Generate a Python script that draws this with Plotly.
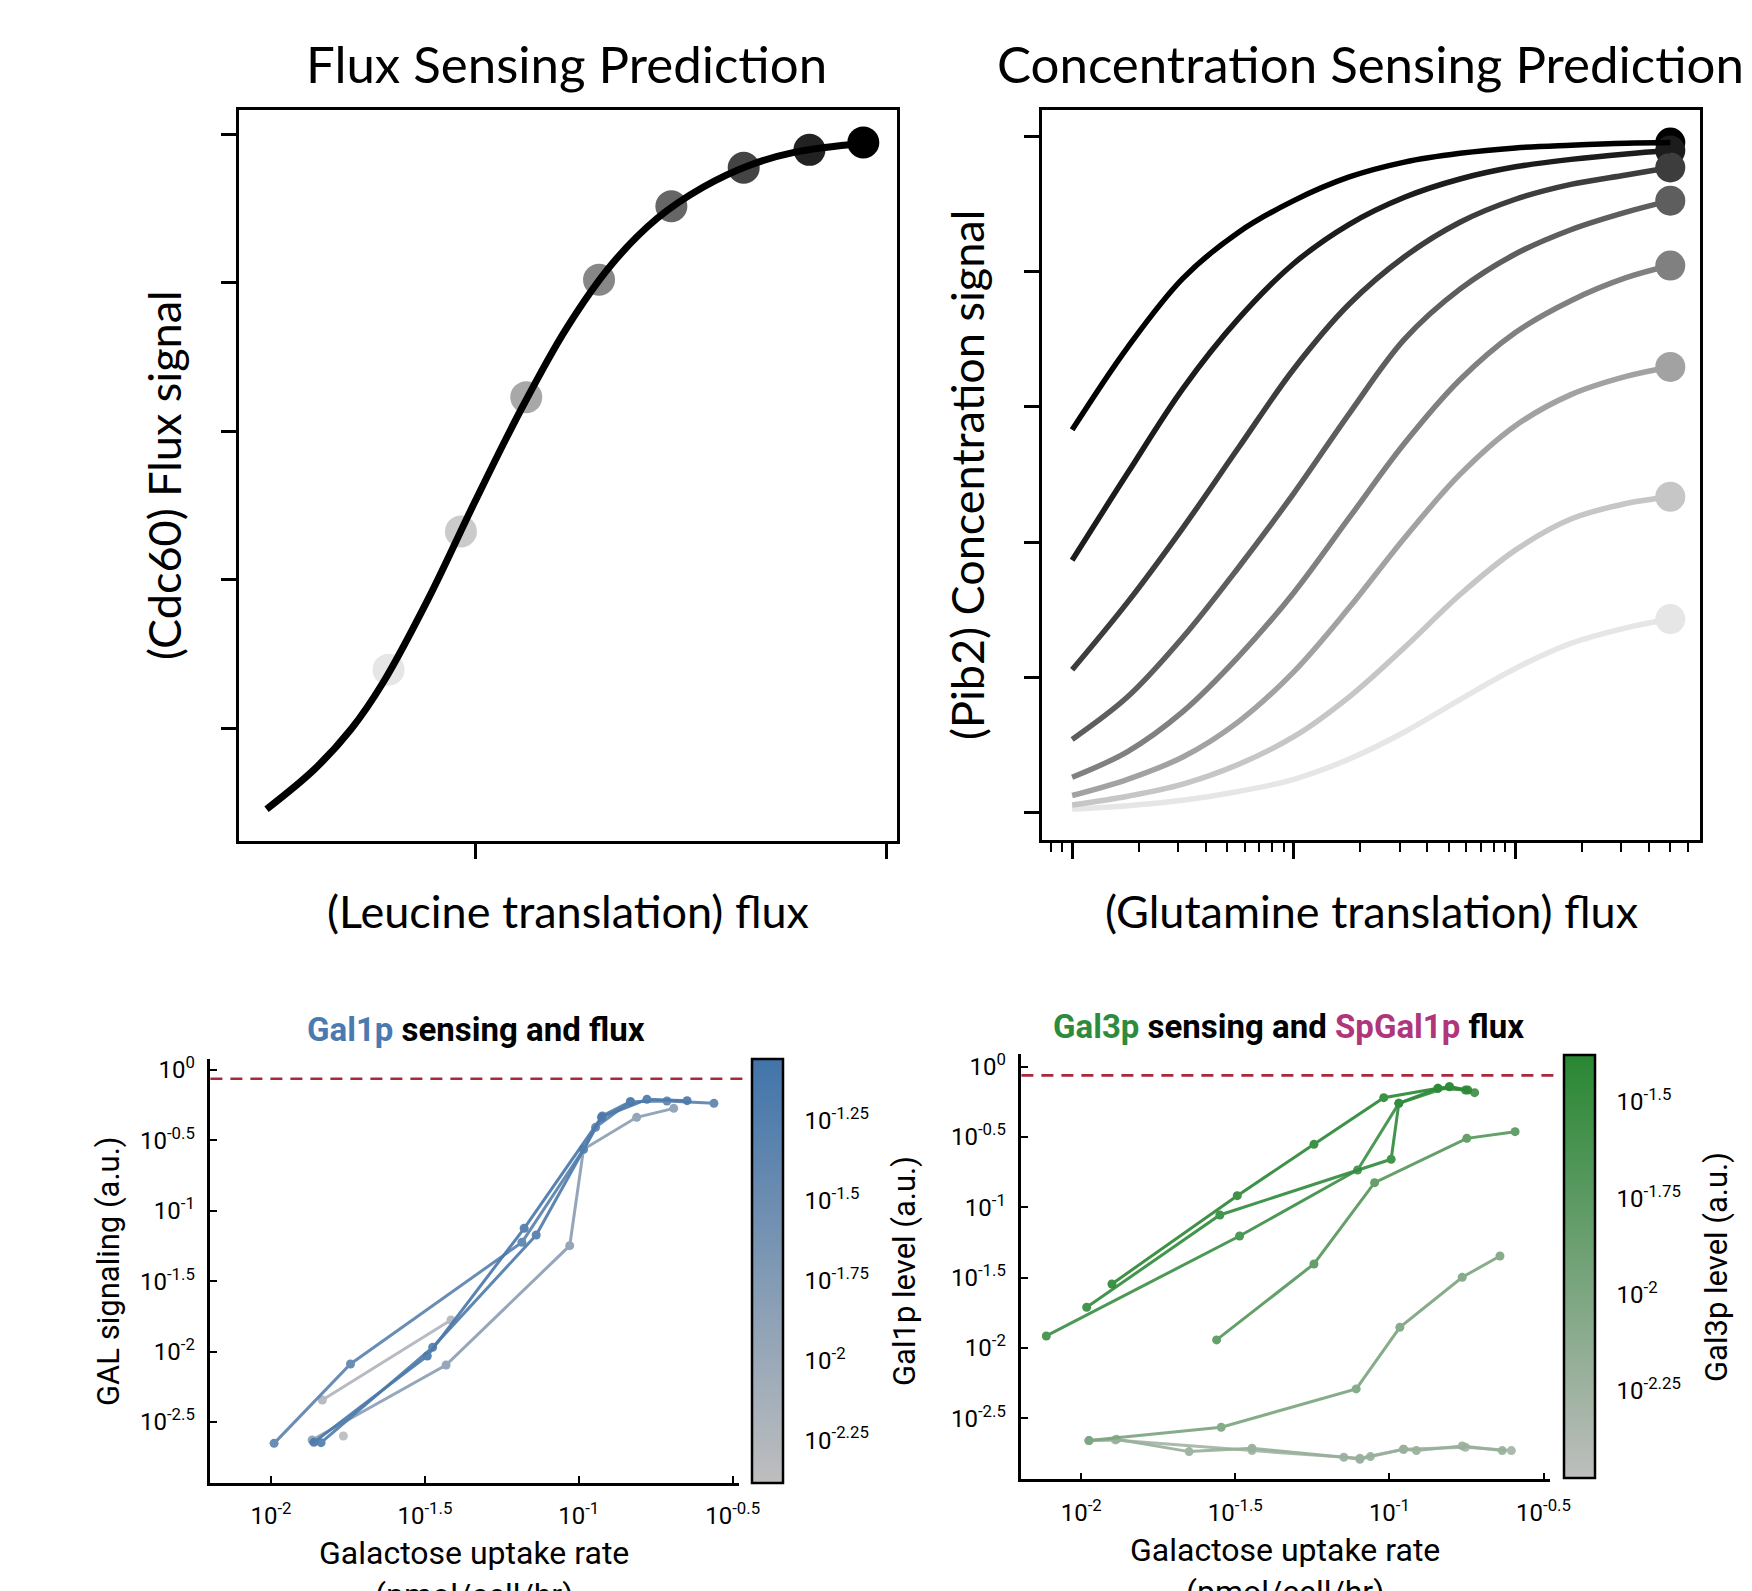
import math
import plotly.graph_objects as go

W, H = 1752, 1591
def px(x): return x / W
def py(y): return 1 - y / H

# ---------------- Top-left: flux sensing prediction ----------------
flux_curve_x = [0.491, 0.608, 0.697, 0.775, 0.886, 0.997, 1.109, 1.220, 1.331, 1.442, 1.554, 1.665, 1.777, 1.944]
flux_curve_y = [0.091, 0.145, 0.199, 0.262, 0.376, 0.504, 0.628, 0.738, 0.825, 0.887, 0.929, 0.958, 0.976, 0.988]
flux_dot_x = [0.788, 0.964, 1.123, 1.300, 1.476, 1.652, 1.812, 1.943]
flux_dot_y = [0.279, 0.465, 0.646, 0.804, 0.903, 0.955, 0.979, 0.989]
flux_dot_colors = ["#e6e6e6", "#cbcbcb", "#a8a8a8", "#878787", "#666666", "#444444", "#222222", "#000000"]

# ---------------- Top-right: concentration sensing prediction ----------------
conc_x = [1, 1.78, 3.16, 5.62, 10, 17.8, 31.6, 56.2, 100, 178, 316, 500]
conc_curves = [
    [0.566, 0.688, 0.790, 0.858, 0.905, 0.940, 0.962, 0.975, 0.983, 0.987, 0.990, 0.991],
    [0.373, 0.502, 0.627, 0.730, 0.812, 0.870, 0.910, 0.937, 0.955, 0.966, 0.974, 0.979],
    [0.211, 0.311, 0.421, 0.539, 0.656, 0.752, 0.822, 0.873, 0.907, 0.929, 0.943, 0.954],
    [0.108, 0.171, 0.259, 0.362, 0.472, 0.590, 0.700, 0.774, 0.826, 0.862, 0.888, 0.905],
    [0.052, 0.090, 0.149, 0.230, 0.325, 0.436, 0.546, 0.640, 0.710, 0.757, 0.791, 0.809],
    [0.025, 0.049, 0.082, 0.134, 0.208, 0.303, 0.406, 0.500, 0.572, 0.618, 0.645, 0.659],
    [0.011, 0.024, 0.042, 0.071, 0.112, 0.171, 0.244, 0.322, 0.388, 0.434, 0.457, 0.467],
    [0.005, 0.010, 0.018, 0.031, 0.049, 0.079, 0.119, 0.167, 0.213, 0.250, 0.273, 0.286],
]
conc_colors = ["#000000", "#1c1c1c", "#3d3d3d", "#5e5e5e", "#808080", "#a2a2a2", "#c6c6c6", "#e6e6e6"]

# ---------------- Bottom-left: Gal1p sensing and flux ----------------
gal1_level = [0.04467, 0.07079, 0.06026, 0.01413, 0.005623, 0.004467]
gal1_uptake = [
    [0.01023, 0.01812, 0.06535, 0.1036, 0.1134, 0.1472, 0.1935, 0.2749],
    [0.01378, 0.03219, 0.06646, 0.1185, 0.1665, 0.2249],
    [0.01454, 0.03351, 0.07272, 0.1193, 0.1472],
    [0.01360, 0.03705, 0.09345, 0.1036, 0.1542, 0.2035],
    [0.01468, 0.03844],
    [0.01718],
]
gal1_signal = [
    [0.002231, 0.008164, 0.05970, 0.2732, 0.3916, 0.5957, 0.6022, 0.5798],
    [0.002268, 0.009307, 0.07506, 0.4612, 0.6189, 0.6055],
    [0.002255, 0.01072, 0.06731, 0.4714, 0.5957],
    [0.002356, 0.008032, 0.05654, 0.2732, 0.4612, 0.5341],
    [0.004532, 0.01677],
    [0.002515],
]

# ---------------- Bottom-right: Gal3p sensing and SpGal1p flux ----------------
gal3_level = [0.03802, 0.03388, 0.02818, 0.01905, 0.01000, 0.006310, 0.005012]
gal3_uptake = [
    [0.01258, 0.03209, 0.05691, 0.09587, 0.1437, 0.1566, 0.1796],
    [0.01042, 0.02818, 0.1013, 0.1073, 0.1437, 0.1765],
    [0.007705, 0.03265, 0.07885, 0.1073, 0.1566, 0.1890],
    [0.02750, 0.05691, 0.08952, 0.1783, 0.2557],
    [0.01060, 0.02846, 0.07804, 0.1081, 0.1723, 0.2284],
    [0.01060, 0.01302, 0.02239, 0.03582, 0.07113, 0.08020, 0.08679, 0.1111, 0.1223, 0.1723, 0.2323],
    [0.01060, 0.01289, 0.03582, 0.08020, 0.1111, 0.1765, 0.2487],
]
gal3_gal1p = [
    [0.02851, 0.1210, 0.2805, 0.6021, 0.7015, 0.7209, 0.6825],
    [0.01946, 0.08820, 0.2195, 0.5486, 0.7015, 0.6825],
    [0.01217, 0.06254, 0.1842, 0.5486, 0.7209, 0.6533],
    [0.01140, 0.03956, 0.1498, 0.3094, 0.3450],
    [0.002194, 0.002729, 0.005111, 0.01402, 0.03179, 0.04508],
    [0.002194, 0.002243, 0.001832, 0.001935, 0.001670, 0.001616, 0.001689, 0.001904, 0.001862, 0.002010, 0.001862],
    [0.002194, 0.002218, 0.001862, 0.001642, 0.001904, 0.001967, 0.001862],
]

max_signal_level = 0.867

# tick labels
log_ticks_y = [1, 10**-0.5, 10**-1, 10**-1.5, 10**-2, 10**-2.5]
log_ticks_y_text = ["10<sup>0</sup>", "10<sup>-0.5</sup>", "10<sup>-1</sup>", "10<sup>-1.5</sup>", "10<sup>-2</sup>", "10<sup>-2.5</sup>"]
log_ticks_x = [10**-2, 10**-1.5, 10**-1, 10**-0.5]
log_ticks_x_text = ["10<sup>-2</sup>", "10<sup>-1.5</sup>", "10<sup>-1</sup>", "10<sup>-0.5</sup>"]
cb1_ticks = [-2.25, -2.0, -1.75, -1.5, -1.25]
cb1_text = ["10<sup>-2.25</sup>", "10<sup>-2</sup>", "10<sup>-1.75</sup>", "10<sup>-1.5</sup>", "10<sup>-1.25</sup>"]
cb2_ticks = [-2.25, -2.0, -1.75, -1.5]
cb2_text = ["10<sup>-2.25</sup>", "10<sup>-2</sup>", "10<sup>-1.75</sup>", "10<sup>-1.5</sup>"]

GRAY = (190, 190, 190)
BLUE = (66, 116, 170)
GREEN = (40, 135, 50)
cb1_range = (-2.385, -1.059)
cb2_range = (-2.476, -1.379)

def cmap(val, lo_hi, c1):
    lo, hi = lo_hi
    t = (math.log10(val) - lo) / (hi - lo)
    t = max(0, min(1, t))
    r = [round(GRAY[i] + (c1[i] - GRAY[i]) * t) for i in range(3)]
    return "rgb(%d,%d,%d)" % tuple(r)

fig = go.Figure()

# top-left
fig.add_trace(go.Scatter(x=flux_dot_x, y=flux_dot_y, mode="markers",
                         marker=dict(size=32, color=flux_dot_colors, line=dict(width=0)),
                         xaxis="x", yaxis="y", showlegend=False, hoverinfo="skip"))
fig.add_trace(go.Scatter(x=flux_curve_x, y=flux_curve_y, mode="lines",
                         line=dict(color="black", width=7, shape="spline", smoothing=1.0),
                         xaxis="x", yaxis="y", showlegend=False))

# top-right
fig.add_trace(go.Scatter(x=[conc_x[-1]] * len(conc_curves), y=[c[-1] for c in conc_curves], mode="markers",
                         marker=dict(size=30, color=conc_colors, line=dict(width=0)),
                         xaxis="x2", yaxis="y2", showlegend=False, hoverinfo="skip"))
for curve, col in reversed(list(zip(conc_curves, conc_colors))):
    fig.add_trace(go.Scatter(x=conc_x, y=curve, mode="lines",
                             line=dict(color=col, width=5.5, shape="spline", smoothing=1.0),
                             xaxis="x2", yaxis="y2", showlegend=False))

TICKF = dict(family="Roboto", size=24, color="black")

def colorbar(xl, yc, length, ticks, text):
    return dict(x=px(xl), xanchor="left", y=py(yc), yanchor="middle",
                len=length, lenmode="pixels", thickness=31, thicknessmode="pixels",
                xpad=0, ypad=0, outlinewidth=2.5, outlinecolor="black",
                ticks="outside", ticklen=16, tickwidth=2, tickcolor="rgba(0,0,0,0)",
                tickvals=ticks, ticktext=text, tickfont=TICKF)

# bottom-left series
order1 = sorted(range(len(gal1_level)), key=lambda i: gal1_level[i])
for i in order1:
    col = cmap(gal1_level[i], cb1_range, BLUE)
    fig.add_trace(go.Scatter(x=gal1_uptake[i], y=gal1_signal[i], mode="lines+markers",
                             line=dict(color=col, width=3), marker=dict(size=9, color=col),
                             opacity=0.92, xaxis="x3", yaxis="y3", showlegend=False))
CB1 = dict(left=752.3, top=1059.3, bottom=1483.3)
fig.add_trace(go.Scatter(x=[None, None], y=[None, None], mode="markers",
                         marker=dict(color=list(cb1_range), cmin=cb1_range[0], cmax=cb1_range[1],
                                     colorscale=[[0, "rgb(%d,%d,%d)" % GRAY], [1, "rgb(%d,%d,%d)" % BLUE]],
                                     showscale=True,
                                     colorbar=colorbar(CB1["left"], (CB1["top"] + CB1["bottom"]) / 2,
                                                       CB1["bottom"] - CB1["top"], cb1_ticks, cb1_text)),
                         xaxis="x3", yaxis="y3", showlegend=False, hoverinfo="skip"))

# bottom-right series
order2 = sorted(range(len(gal3_level)), key=lambda i: gal3_level[i])
for i in order2:
    col = cmap(gal3_level[i], cb2_range, GREEN)
    fig.add_trace(go.Scatter(x=gal3_uptake[i], y=gal3_gal1p[i], mode="lines+markers",
                             line=dict(color=col, width=3), marker=dict(size=9, color=col),
                             opacity=0.92, xaxis="x4", yaxis="y4", showlegend=False))
CB2 = dict(left=1564, top=1055, bottom=1478.3)
fig.add_trace(go.Scatter(x=[None, None], y=[None, None], mode="markers",
                         marker=dict(color=list(cb2_range), cmin=cb2_range[0], cmax=cb2_range[1],
                                     colorscale=[[0, "rgb(%d,%d,%d)" % GRAY], [1, "rgb(%d,%d,%d)" % GREEN]],
                                     showscale=True,
                                     colorbar=colorbar(CB2["left"], (CB2["top"] + CB2["bottom"]) / 2,
                                                       CB2["bottom"] - CB2["top"], cb2_ticks, cb2_text)),
                         xaxis="x4", yaxis="y4", showlegend=False, hoverinfo="skip"))

# inside tick marks on both edges of each colorbar (decoration)
for cb, rng, ticks in ((CB1, cb1_range, cb1_ticks), (CB2, cb2_range, cb2_ticks)):
    for v in ticks:
        yy = cb["bottom"] - (v - rng[0]) / (rng[1] - rng[0]) * (cb["bottom"] - cb["top"])
        for xa, xb in ((cb["left"], cb["left"] + 5), (cb["left"] + 31 - 5, cb["left"] + 31)):
            fig.add_shape(type="line", xref="paper", yref="paper", x0=px(xa), x1=px(xb), y0=py(yy), y1=py(yy),
                          line=dict(color="black", width=2.2))

frame = dict(showline=True, linecolor="black", linewidth=2.5, mirror=True, showgrid=False,
             zeroline=False, showticklabels=False, ticks="outside", tickwidth=2.5, tickcolor="black")
bottom_ax = dict(showline=True, linecolor="black", linewidth=2.5, mirror=False, showgrid=False,
                 zeroline=False, ticks="inside", ticklen=7, tickwidth=2, tickcolor="black", type="log",
                 tickfont=TICKF)

minor_vals = [0.8, 0.9] + list(range(2, 10)) + [d * 10 for d in range(2, 10)] + [d * 100 for d in range(2, 7)]

fig.update_layout(
    width=W, height=H, autosize=False,
    margin=dict(l=0, r=0, t=0, b=0, autoexpand=False),
    paper_bgcolor="white", plot_bgcolor="white",
    xaxis=dict(frame, domain=[px(239), px(897)], anchor="y", range=[0.424, 2.025],
               tickvals=[1, 2], ticklen=15),
    yaxis=dict(frame, domain=[py(841), py(110)], anchor="x", range=[0.0482, 1.0327],
               tickvals=[0.2, 0.4, 0.6, 0.8, 1.0], ticklen=15),
    xaxis2=dict(frame, domain=[px(1042), px(1700)], anchor="y2", type="log", range=[-0.136, 2.833],
                tickvals=[1, 10, 100], ticklen=16,
                minor=dict(tickmode="array", tickvals=minor_vals, ticks="outside", ticklen=9,
                           tickwidth=2, tickcolor="black", showgrid=False)),
    yaxis2=dict(frame, domain=[py(840), py(109.5)], anchor="x2", range=[-0.0408, 1.0398],
                tickvals=[0, 0.2, 0.4, 0.6, 0.8, 1.0], ticklen=15),
    xaxis3=dict(bottom_ax, domain=[px(210.4), px(738.5)], anchor="y3", range=[-2.197, -0.481],
                tickvals=log_ticks_x, ticktext=log_ticks_x_text, ticklabelstandoff=10),
    yaxis3=dict(bottom_ax, domain=[py(1482.7), py(1059)], anchor="x3", range=[-2.931, 0.078],
                tickvals=log_ticks_y, ticktext=log_ticks_y_text, ticklabelstandoff=8),
    xaxis4=dict(bottom_ax, domain=[px(1021.4), px(1550.3)], anchor="y4", range=[-2.194, -0.478],
                tickvals=log_ticks_x, ticktext=log_ticks_x_text, ticklabelstandoff=10),
    yaxis4=dict(bottom_ax, domain=[py(1479.3), py(1054.3)], anchor="x4", range=[-2.934, 0.088],
                tickvals=log_ticks_y, ticktext=log_ticks_y_text, ticklabelstandoff=8),
)

red = "#a8283c"
fig.add_shape(type="line", xref="paper", yref="y3", x0=px(210.4), x1=px(748), y0=max_signal_level, y1=max_signal_level,
              line=dict(color=red, width=2.6, dash="12px,8px"))
fig.add_shape(type="line", xref="paper", yref="y4", x0=px(1021.4), x1=px(1558), y0=max_signal_level, y1=max_signal_level,
              line=dict(color=red, width=2.6, dash="12px,8px"))

TOPF = "Lato"
def A(text, x, y, size, family, angle=0, xanchor="center", yanchor="middle", color="black"):
    fig.add_annotation(text=text, x=px(x), y=py(y), xref="paper", yref="paper", showarrow=False,
                       textangle=angle, xanchor=xanchor, yanchor=yanchor,
                       font=dict(family=family, size=size, color=color))

A("Flux Sensing Prediction", 566, 63, 51, TOPF)
A("Concentration Sensing Prediction", 1370, 63, 51, TOPF)
A("(Cdc60) Flux signal", 164, 475, 45, TOPF, angle=-90)
A("(Pib2) Concentration signal", 967, 475, 45, TOPF, angle=-90)
A("(Leucine translation) flux", 568, 911, 45, TOPF)
A("(Glutamine translation) flux", 1371, 911, 45, TOPF)

A("<b><span style='color:#4a7ab0'>Gal1p</span> sensing and flux</b>", 476, 1029, 33, "Roboto")
A("<b><span style='color:#2e8b3e'>Gal3p</span> sensing and <span style='color:#b0357a'>SpGal1p</span> flux</b>",
  1288, 1026, 33, "Roboto")
A("GAL signaling (a.u.)", 108, 1271, 31, "Roboto", angle=-90)
A("Gal1p level (a.u.)", 904, 1271, 31, "Roboto", angle=-90)
A("Gal3p level (a.u.)", 1716, 1267, 31, "Roboto", angle=-90)
A("Galactose uptake rate<br>(pmol/cell/hr)", 474, 1532, 32, "Roboto", yanchor="top")
A("Galactose uptake rate<br>(pmol/cell/hr)", 1285, 1529, 32, "Roboto", yanchor="top")

fig.write_html("out.html")
